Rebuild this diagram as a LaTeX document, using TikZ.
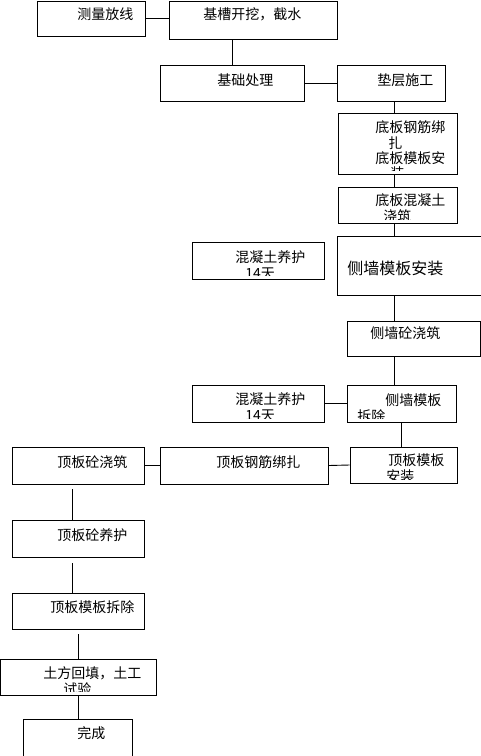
\documentclass[tikz,border=0pt]{standalone}
\usepackage{fontspec}
\newfontfamily\cjk{Noto Sans CJK SC}
\begin{document}
\begin{tikzpicture}[x=1pt, y=-1pt, line width=0.9pt,
  box/.style={draw, inner sep=0pt},
  lbl/.style={font=\cjk\fontsize{14}{15}\selectfont, inner sep=0pt, anchor=west},
  lbls/.style={font=\cjk\fontsize{14}{15.3}\selectfont, inner sep=0pt, align=left, anchor=north west}]
\useasboundingbox (0,0) rectangle (481,756);
% boxes
\node[box, minimum width=108, minimum height=35] (celiang) at (91,18.5) {};
\node[box, minimum width=168, minimum height=38] (jicao) at (253,20) {};
\node[box, minimum width=144, minimum height=36] (jichu) at (232,83) {};
\node[box, minimum width=108, minimum height=36] (dianceng) at (391,83) {};
\node[box, minimum width=119, minimum height=61] (dibangangjin) at (397.5,143.5) {};
\node[box, minimum width=119, minimum height=36] (dibanhunningtu) at (397.5,205) {};
\node[box, minimum width=132, minimum height=37] (yanghu1) at (258,260.5) {};
\node[box, minimum width=147, minimum height=59] (cemomo) at (410.5,265.5) {};
\node[box, minimum width=133, minimum height=35] (cejiaozhu) at (413.5,338.5) {};
\node[box, minimum width=132, minimum height=37] (yanghu2) at (258,403.5) {};
\node[box, minimum width=109, minimum height=37] (cechaichu) at (401.5,403.5) {};
\node[box, minimum width=107, minimum height=36] (dingmoban) at (403.5,465) {};
\node[box, minimum width=168, minimum height=37] (dinggangjin) at (244,465.5) {};
\node[box, minimum width=132, minimum height=37] (dingjiaozhu) at (78,465.5) {};
\node[box, minimum width=132, minimum height=37] (dingyanghu) at (78,538.5) {};
\node[box, minimum width=132, minimum height=36] (dingchaichu) at (78,611) {};
\node[box, minimum width=156, minimum height=36] (tufang) at (78.5,677) {};
\node[box, minimum width=109, minimum height=43] (wancheng) at (77.5,740.5) {};
% texts
\node[lbl] (celiang-t) at (77,14) {测量放线};
\node[lbl] (jicao-t) at (203,14) {基槽开挖，截水};
\node[lbl] (jichu-t) at (217,80) {基础处理};
\node[lbl] (dianceng-t) at (377,80) {垫层施工};
\begin{scope}
\clip ([yshift=4pt]dibangangjin.south west) rectangle (dibangangjin.north east);
\node[lbls] (dibangangjin-t) at (375,120.5) {底板钢筋绑\\\hspace*{13pt}扎\\底板模板安\\\hspace*{15pt}装};
\end{scope}
\begin{scope}
\clip ([yshift=4pt]dibanhunningtu.south west) rectangle (dibanhunningtu.north east);
\node[lbls] (dibanhunningtu-t) at (375,193.5) {底板混凝土\\\hspace*{8pt}浇筑};
\end{scope}
\begin{scope}
\clip ([yshift=4pt]yanghu1.south west) rectangle (yanghu1.north east);
\node[lbls] (yanghu1-t) at (235,250.5) {混凝土养护\\\hspace*{10pt}14天};
\end{scope}
\node[lbl, font=\cjk\fontsize{16}{18}\selectfont] (cemomo-t) at (347,268) {侧墙模板安装};
\node[lbl] (cejiaozhu-t) at (370,333) {侧墙砼浇筑};
\begin{scope}
\clip ([yshift=4pt]yanghu2.south west) rectangle (yanghu2.north east);
\node[lbls] (yanghu2-t) at (235,392.5) {混凝土养护\\\hspace*{10pt}14天};
\end{scope}
\begin{scope}
\clip ([yshift=4pt]cechaichu.south west) rectangle (cechaichu.north east);
\node[lbls] (cechaichu-t) at (357,393.5) {\hspace*{28pt}侧墙模板\\拆除};
\end{scope}
\begin{scope}
\clip ([yshift=4pt]dingmoban.south west) rectangle (dingmoban.north east);
\node[lbls] (dingmoban-t) at (386,453.5) {\hspace*{2pt}顶板模板\\安装};
\end{scope}
\node[lbl] (dinggangjin-t) at (216,462) {顶板钢筋绑扎};
\node[lbl] (dingjiaozhu-t) at (57,462) {顶板砼浇筑};
\node[lbl] (dingyanghu-t) at (57,535) {顶板砼养护};
\node[lbl] (dingchaichu-t) at (50,607) {顶板模板拆除};
\begin{scope}
\clip ([yshift=4pt]tufang.south west) rectangle (tufang.north east);
\node[lbls] (tufang-t) at (43,666.5) {土方回填，土工\\\hspace*{20pt}试验};
\end{scope}
\node[lbl] (wancheng-t) at (77,733) {完成};
% connectors
\draw (celiang.east) -- (celiang.east -| jicao.west);
\draw (jichu.north) -- (jichu.north |- jicao.south);
\draw (jichu.east) -- (dianceng.west);
\draw ([xshift=-3pt]dibangangjin.north) -- ([xshift=-3pt]dibangangjin.north |- dianceng.south);
\draw ([xshift=-3pt]dibangangjin.south) -- ([xshift=-3pt]dibanhunningtu.north);
\draw ([xshift=-3pt]dibanhunningtu.south) -- ([xshift=-3pt]dibanhunningtu.south |- cemomo.north);
\draw ([xshift=-3pt]dibanhunningtu.south |- cemomo.south) -- ([xshift=-3pt]dibanhunningtu.south |- cejiaozhu.north);
\draw ([xshift=-3pt]dibanhunningtu.south |- cejiaozhu.south) -- ([xshift=-3pt]dibanhunningtu.south |- cechaichu.north);
\draw (yanghu2.east) -- (cechaichu.west);
\draw (cechaichu.south) -- (cechaichu.south |- dingmoban.north);
\draw (dinggangjin.east) -- (dingmoban.west);
\draw (dingjiaozhu.east) -- (dinggangjin.west);
\draw ([xshift=-6pt,yshift=-5pt]dingjiaozhu.south) -- ([xshift=-6pt]dingyanghu.north);
\draw ([xshift=-6pt,yshift=-6pt]dingyanghu.south) -- ([xshift=-6pt]dingchaichu.north);
\draw ([yshift=-5pt]dingchaichu.south) -- (dingchaichu.south |- tufang.north);
\draw (tufang.south) -- (tufang.south |- wancheng.north);
\end{tikzpicture}
\end{document}
